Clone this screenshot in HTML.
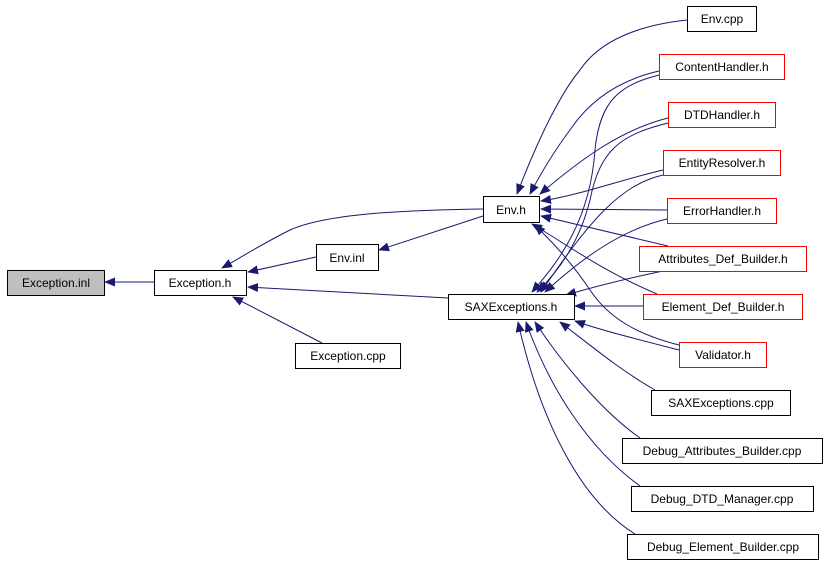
<!DOCTYPE html>
<html><head><meta charset="utf-8"><style>
body{margin:0;background:#fff;width:827px;height:563px;overflow:hidden}
svg text{font-family:"Liberation Sans",sans-serif;font-size:12px;text-anchor:middle}
</style></head><body>
<svg width="827" height="563" xmlns="http://www.w3.org/2000/svg">
<defs><marker id="a" markerWidth="11" markerHeight="9" refX="10" refY="4.5" orient="auto" markerUnits="userSpaceOnUse"><path d="M0,0L11,4.5L0,9z" fill="#191970"/></marker></defs>
<g fill="none" stroke="#191970" stroke-width="1" marker-end="url(#a)">
<path d="M154,282L105,282"/>
<path d="M316,257L248,272"/>
<path d="M448,298L248,287"/>
<path d="M322,343L233,297"/>
<path d="M483,209C420,210 330,212 290,230C260,245 240,258 222,268"/>
<path d="M483,216L379,250"/>
<path d="M687,20C640,25 600,40 580,70C555,100 530,160 517,194"/>
<path d="M659,71C620,80 590,100 570,130C555,150 540,175 530,194"/>
<path d="M659,75C620,85 600,100 595,150C590,220 560,260 532,292"/>
<path d="M668,118C620,130 580,160 540,194"/>
<path d="M668,123C620,135 600,150 590,200C580,240 560,270 537,292"/>
<path d="M663,170C620,180 580,195 541,201"/>
<path d="M663,175C620,185 590,220 541,292"/>
<path d="M667,210L541,209"/>
<path d="M667,219C620,230 580,260 545,292"/>
<path d="M668,246C620,235 580,225 541,216"/>
<path d="M663,271C620,280 590,288 566,295"/>
<path d="M657,294C600,270 560,240 532,224"/>
<path d="M643,306L575,306"/>
<path d="M679,345C640,335 610,320 590,290C570,260 550,240 535,225"/>
<path d="M679,350C640,340 600,330 575,321"/>
<path d="M655,390C620,370 590,345 560,322"/>
<path d="M640,438C600,410 560,360 535,322"/>
<path d="M640,486C590,450 550,390 526,322"/>
<path d="M635,534C580,500 540,420 518,322"/>
</g>
<g stroke="#000" stroke-width="1">
<rect x="7.5" y="270.5" width="97" height="25" fill="#bfbfbf"/>
<rect x="154.5" y="270.5" width="92" height="25" fill="#fff"/>
<rect x="316.5" y="244.5" width="62" height="26" fill="#fff"/>
<rect x="295.5" y="343.5" width="105" height="25" fill="#fff"/>
<rect x="483.5" y="196.5" width="56" height="26" fill="#fff"/>
<rect x="448.5" y="294.5" width="126" height="25" fill="#fff"/>
<rect x="687.5" y="6.5" width="69" height="25" fill="#fff"/>
<rect x="651.5" y="390.5" width="139" height="25" fill="#fff"/>
<rect x="622.5" y="438.5" width="200" height="25" fill="#fff"/>
<rect x="631.5" y="486.5" width="182" height="25" fill="#fff"/>
<rect x="627.5" y="534.5" width="191" height="25" fill="#fff"/>
</g>
<g stroke="#f00" stroke-width="1" fill="#fff">
<rect x="659.5" y="54.5" width="125" height="25"/>
<rect x="668.5" y="102.5" width="107" height="25"/>
<rect x="663.5" y="150.5" width="117" height="25"/>
<rect x="667.5" y="198.5" width="109" height="25"/>
<rect x="639.5" y="246.5" width="167" height="25"/>
<rect x="643.5" y="294.5" width="159" height="25"/>
<rect x="679.5" y="342.5" width="87" height="25"/>
</g>
<g fill="#000">
<text x="56" y="287">Exception.inl</text>
<text x="200" y="287">Exception.h</text>
<text x="347" y="262">Env.inl</text>
<text x="348" y="360">Exception.cpp</text>
<text x="511" y="214">Env.h</text>
<text x="511" y="311">SAXExceptions.h</text>
<text x="722" y="23">Env.cpp</text>
<text x="722" y="71">ContentHandler.h</text>
<text x="722" y="119">DTDHandler.h</text>
<text x="722" y="167">EntityResolver.h</text>
<text x="722" y="215">ErrorHandler.h</text>
<text x="723" y="263">Attributes_Def_Builder.h</text>
<text x="723" y="311">Element_Def_Builder.h</text>
<text x="723" y="359">Validator.h</text>
<text x="721" y="407">SAXExceptions.cpp</text>
<text x="722" y="455">Debug_Attributes_Builder.cpp</text>
<text x="722" y="503">Debug_DTD_Manager.cpp</text>
<text x="723" y="551">Debug_Element_Builder.cpp</text>
</g>
</svg>
</body></html>
